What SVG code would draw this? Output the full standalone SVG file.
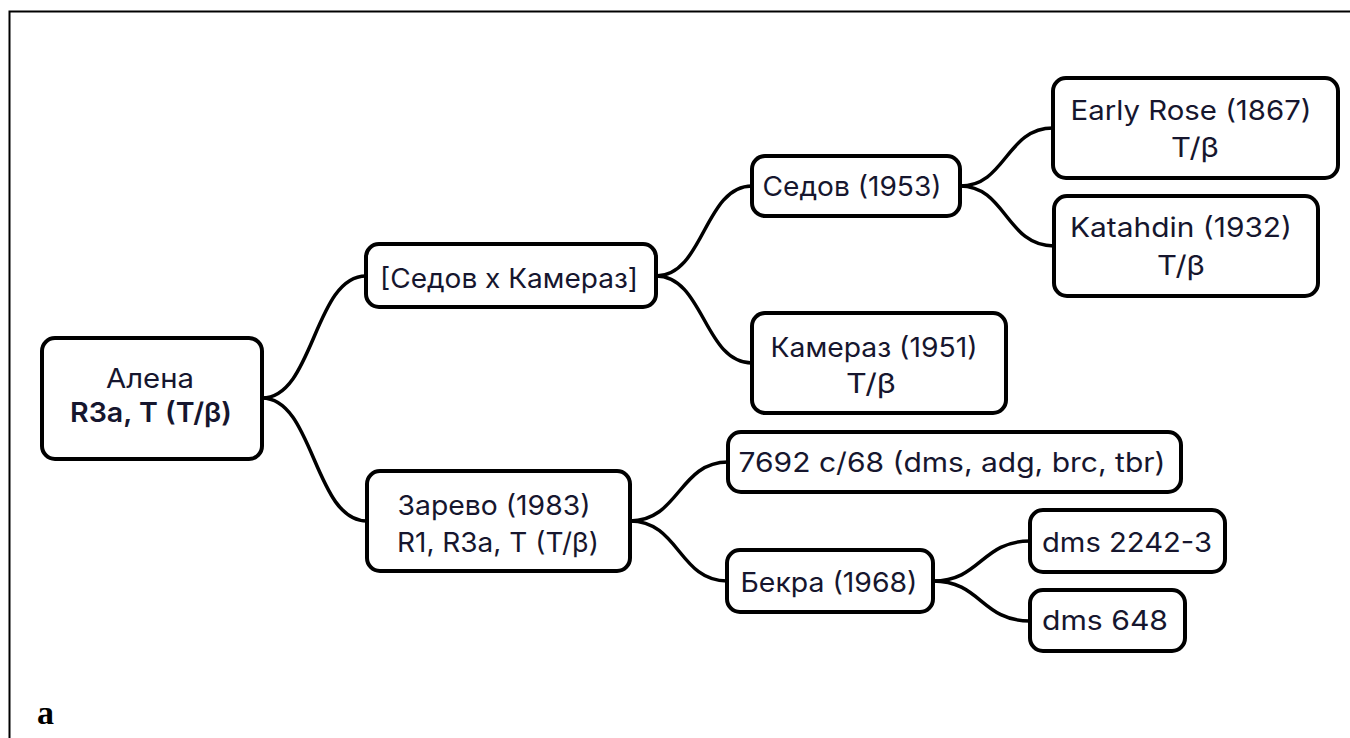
<svg xmlns="http://www.w3.org/2000/svg" width="1350" height="738" viewBox="0 0 1350 738">
<style>
.box{fill:#fff;stroke:#000;stroke-width:4}
.t{font-family:Inter,"Open Sans","DejaVu Sans",sans-serif;font-size:27px;fill:#16162e;text-anchor:middle}
.b{font-weight:600}
.c{fill:none;stroke:#000;stroke-width:3.5;stroke-linecap:round}
</style>
<rect width="1350" height="738" fill="#fff"/>
<path d="M9.5,738 V11.5 H1350" fill="none" stroke="#000" stroke-width="2"/>
<g id="connectors">
<path class="c" d="M262,398 C314,398 314,276 366,276"/>
<path class="c" d="M262,398 C314,398 314,521 367,521"/>
<path class="c" d="M656,276 C704,276 704,186 752,186"/>
<path class="c" d="M656,276 C704,276 704,363 752,363"/>
<path class="c" d="M960,186 C1006,186 1006,128 1053,128"/>
<path class="c" d="M960,186 C1006,186 1006,246 1054,246"/>
<path class="c" d="M630,521 C679,521 679,462 728,462"/>
<path class="c" d="M630,521 C679,521 679,581 727,581"/>
<path class="c" d="M933,581 C981,581 981,541 1030,541"/>
<path class="c" d="M933,581 C981,581 981,621 1030,621"/>
</g>
<g id="alena">
<rect class="box" x="42" y="338" width="220" height="121" rx="13"/>
<text class="t" x="150" y="388" textLength="88" lengthAdjust="spacingAndGlyphs">Алена</text>
<text class="t b" x="151" y="422" textLength="162" lengthAdjust="spacingAndGlyphs">R3a, T (T/β)</text>
</g>
<g id="sedov-x-kameraz">
<rect class="box" x="366" y="244" width="290" height="63" rx="13"/>
<text class="t" x="509" y="288" textLength="258" lengthAdjust="spacingAndGlyphs">[Седов x Камераз]</text>
</g>
<g id="sedov">
<rect class="box" x="752" y="156" width="208" height="60" rx="13"/>
<text class="t" x="852" y="196" textLength="179" lengthAdjust="spacingAndGlyphs">Седов (1953)</text>
</g>
<g id="early-rose">
<rect class="box" x="1053" y="78" width="285" height="100" rx="13"/>
<text class="t" x="1191" y="120" textLength="241" lengthAdjust="spacingAndGlyphs">Early Rose (1867)</text>
<text class="t" x="1195" y="157" textLength="48" lengthAdjust="spacingAndGlyphs">T/β</text>
</g>
<g id="katahdin">
<rect class="box" x="1054" y="196" width="264" height="100" rx="13"/>
<text class="t" x="1181" y="237" textLength="222" lengthAdjust="spacingAndGlyphs">Katahdin (1932)</text>
<text class="t" x="1181" y="275" textLength="48" lengthAdjust="spacingAndGlyphs">T/β</text>
</g>
<g id="kameraz">
<rect class="box" x="752" y="313" width="254" height="100" rx="13"/>
<text class="t" x="874" y="357" textLength="207" lengthAdjust="spacingAndGlyphs">Камераз (1951)</text>
<text class="t" x="871" y="393" textLength="50" lengthAdjust="spacingAndGlyphs">T/β</text>
</g>
<g id="zarevo">
<rect class="box" x="367" y="471" width="263" height="100" rx="13"/>
<text class="t" x="494" y="515" textLength="193" lengthAdjust="spacingAndGlyphs">Зарево (1983)</text>
<text class="t" x="498" y="552" textLength="202" lengthAdjust="spacingAndGlyphs">R1, R3a, T (T/β)</text>
</g>
<g id="c7692">
<rect class="box" x="728" y="432" width="453" height="60" rx="13"/>
<text class="t" x="952" y="472" textLength="427" lengthAdjust="spacingAndGlyphs">7692 с/68 (dms, adg, brc, tbr)</text>
</g>
<g id="bekra">
<rect class="box" x="727" y="550" width="206" height="62" rx="13"/>
<text class="t" x="829" y="592" textLength="177" lengthAdjust="spacingAndGlyphs">Бекра (1968)</text>
</g>
<g id="dms2242">
<rect class="box" x="1030" y="510" width="195" height="62" rx="13"/>
<text class="t" x="1127" y="552" textLength="170" lengthAdjust="spacingAndGlyphs">dms 2242-3</text>
</g>
<g id="dms648">
<rect class="box" x="1030" y="590" width="155" height="61" rx="13"/>
<text class="t" x="1105" y="630" textLength="126" lengthAdjust="spacingAndGlyphs">dms 648</text>
</g>
<text x="37" y="724" font-family="'Liberation Serif',serif" font-weight="bold" font-size="34" fill="#000">a</text>
</svg>
